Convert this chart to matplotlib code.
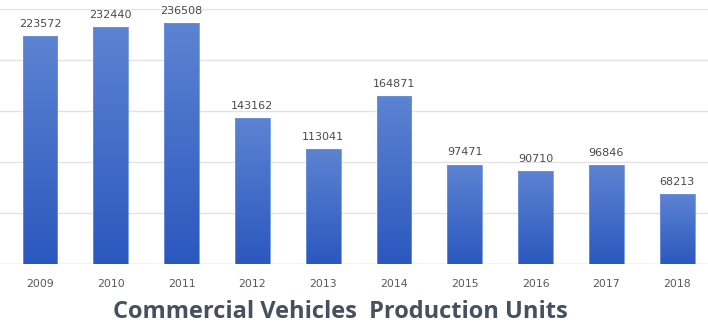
import matplotlib
matplotlib.use("Agg")
import matplotlib.pyplot as plt
import numpy as np
from matplotlib.colors import LinearSegmentedColormap

years = ["2009", "2010", "2011", "2012", "2013", "2014", "2015", "2016", "2017", "2018"]
units = [223572, 232440, 236508, 143162, 113041, 164871, 97471, 90710, 96846, 68213]
title = "Commercial Vehicles  Production Units"

fig = plt.figure(figsize=(7.08, 3.31), dpi=100)
ax = fig.add_axes([0.0, (331-264)/331, 1.0, 255/331])
x = np.arange(len(years))
bw = 0.49
bars = ax.bar(x, units, width=bw, color="none", edgecolor="#6f93dc", linewidth=0.6, zorder=3)

cmap = LinearSegmentedColormap.from_list("g", ["#2b58be", "#5d83d2"])
grad = np.linspace(0, 1, 256).reshape(-1, 1)
for b in bars:
    x0, y0 = b.get_x(), b.get_y()
    w, h = b.get_width(), b.get_height()
    im = ax.imshow(grad, cmap=cmap, aspect="auto", origin="lower",
                   extent=[x0, x0 + w, y0, y0 + h], zorder=2)
    im.set_clip_path(b)

for xi, v in zip(x, units):
    ax.text(xi, v + 9000, str(v), ha="center", va="baseline", fontsize=8,
            color="#4a4a4a", family="DejaVu Sans")

ax.set_xlim(-40/70.8, (708-40)/70.8)
ax.set_ylim(0, 250000)
ax.set_yticks(np.arange(0, 250001, 50000))
ax.yaxis.grid(True, color="#e3e3e3", linewidth=1.0, zorder=0)
ax.set_axisbelow(True)
ax.set_xticks(x)
ax.set_xticklabels(years, fontsize=7.8, color="#595959", family="DejaVu Sans")
ax.tick_params(axis="x", length=0, pad=11)
ax.tick_params(axis="y", length=0, labelleft=False)
for s in ax.spines.values():
    s.set_visible(False)
ax.axhline(0, color="#dcdcdc", linewidth=1.0, zorder=1)

fig.text(340/708, 1 - 318/331, title, ha="center", va="baseline", fontsize=17,
         fontweight="bold", color="#46505e", family="Open Sans")

fig.savefig("out.png", dpi=100)
